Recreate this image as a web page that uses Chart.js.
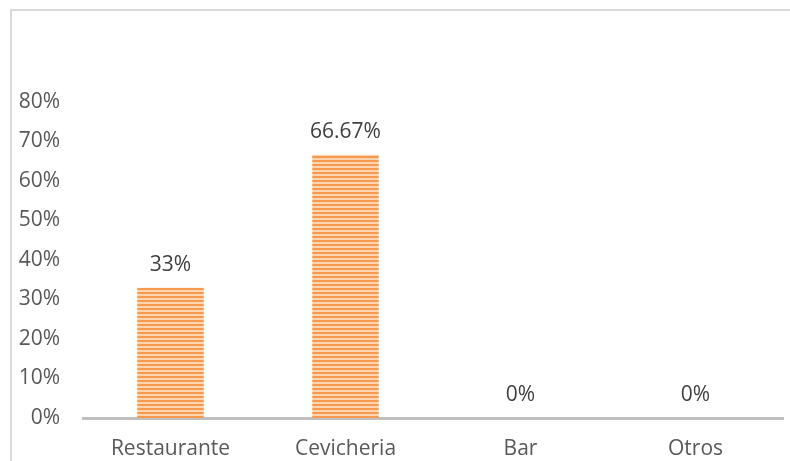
<!DOCTYPE html>
<html>
<head>
<meta charset="utf-8">
<script src="https://cdn.jsdelivr.net/npm/chart.js@4"></script>
<style>
  html, body { margin: 0; padding: 0; background: #fff; }
  #wrap { position: relative; width: 790px; height: 461px; overflow: hidden; }
  #frame { position: absolute; left: 10px; top: 9px; width: 900px; height: 600px;
           border-top: 2px solid #d9d9d9; border-left: 2px solid #d9d9d9; }
  #myChart { position: absolute; left: 0; top: 0; }
</style>
</head>
<body>
<div id="wrap">
  <div id="frame"></div>
  <canvas id="myChart" width="790" height="461"></canvas>
</div>
<script>
var categories = ["Restaurante", "Cevicheria", "Bar", "Otros"];
var values = [33, 66.67, 0, 0];
var valueLabels = ["33%", "66.67%", "0%", "0%"];
var yTicks = [0, 10, 20, 30, 40, 50, 60, 70, 80];

// striped fill like the original
function stripes () {
	var c = document.createElement('canvas');
	c.width = 4; c.height = 4;
	var ctx = c.getContext('2d');
	ctx.fillStyle = '#fcd5b0';
	ctx.fillRect(0, 0, 4, 4);
	ctx.fillStyle = '#f79a4f';
	ctx.fillRect(0, 0, 4, 2);
	return ctx.createPattern(c, 'repeat');
}

var labelPlugin = {
	id: 'valueLabels',
	afterDatasetsDraw: function (chart) {
		var ctx = chart.ctx;
		var meta = chart.getDatasetMeta(0);
		ctx.save();
		ctx.font = '21px "Open Sans"';
		ctx.fillStyle = '#404040';
		ctx.textAlign = 'center';
		ctx.textBaseline = 'middle';
		meta.data.forEach(function (bar, i) {
			ctx.fillText(valueLabels[i], bar.x, bar.y - 23);
		});
		ctx.restore();
	}
};

var el = document.getElementById('myChart');
var myChart = new Chart(el, {
	type: 'bar',
	data: {
		labels: categories,
		datasets: [{
			data: values,
			backgroundColor: stripes(),
			borderWidth: 0,
			barPercentage: 0.38,
			categoryPercentage: 1
		}]
	},
	options: {
		responsive: false,
		animation: false,
		layout: { padding: { top: 102, right: 7, left: 0, bottom: 0 } },
		plugins: { legend: { display: false }, tooltip: { enabled: false } },
		scales: {
			x: {
				afterFit: function (s) { s.height = 43; },
				grid: { display: false },
				border: { display: true, color: '#bfbfbf', width: 3 },
				ticks: { color: '#595959', font: { family: 'Open Sans', size: 21 }, padding: 10 }
			},
			y: {
				min: 0, max: 80,
				afterFit: function (s) { s.width = 83; },
				afterBuildTicks: function (s) { s.ticks = yTicks.map(function (v) { return { value: v }; }); },
				grid: { display: false },
				border: { display: false },
				ticks: {
					color: '#595959', font: { family: 'Open Sans', size: 21 }, padding: 15,
					callback: function (v) { return v + '%'; }
				}
			}
		}
	},
	plugins: [labelPlugin]
});
</script>
</body>
</html>
